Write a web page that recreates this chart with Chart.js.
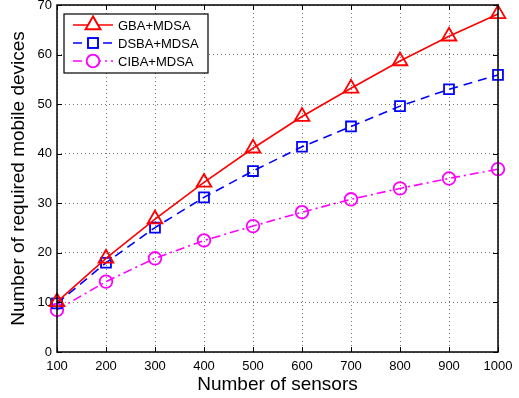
<!DOCTYPE html>
<html>
<head>
<meta charset="utf-8">
<script src="https://cdn.jsdelivr.net/npm/chart.js@4"></script>
<style>
  html, body { margin: 0; padding: 0; background: #fff; }
  #wrap { width: 519px; height: 398px; }
</style>
</head>
<body>
<div id="wrap"><canvas id="c" width="519" height="398"></canvas></div>
<script>
// Number of sensors on the x axis
const sensors = [100, 200, 300, 400, 500, 600, 700, 800, 900, 1000];
// Required mobile devices for each scheme
const gbaMdsa  = [10.1, 18.9, 26.8, 34.2, 41.1, 47.5, 53.2, 58.7, 63.7, 68.2];
const dsbaMdsa = [9.8, 18.0, 25.1, 31.2, 36.5, 41.4, 45.5, 49.6, 53.0, 55.9];
const cibaMdsa = [8.5, 14.2, 18.9, 22.5, 25.4, 28.2, 30.8, 33.0, 35.0, 36.9];
const seriesNames = ['GBA+MDSA', 'DSBA+MDSA', 'CIBA+MDSA'];
const xTicks = [100, 200, 300, 400, 500, 600, 700, 800, 900, 1000];
const yTicks = [0, 10, 20, 30, 40, 50, 60, 70];

const FONT = '"Liberation Sans", Arial, Helvetica, sans-serif';

const styles = [
  { color: '#ff0000', dash: [], pointStyle: 'triangle', radius: 8.5 },
  { color: '#0000ff', dash: [9, 6], pointStyle: 'rect', radius: 7 },
  { color: '#ff00ff', dash: [9, 4, 2, 4], pointStyle: 'circle', radius: 6.3 }
];

const values = [gbaMdsa, dsbaMdsa, cibaMdsa];
const datasets = values.map((vals, i) => ({
  label: seriesNames[i],
  data: sensors.map((s, j) => ({ x: s, y: vals[j] })),
  borderColor: styles[i].color,
  backgroundColor: 'rgba(255,255,255,0)',
  borderWidth: 1.6,
  borderDash: styles[i].dash,
  pointStyle: styles[i].pointStyle,
  pointRadius: styles[i].radius,
  pointBorderColor: styles[i].color,
  pointBackgroundColor: 'rgba(255,255,255,0)',
  pointBorderWidth: 1.8,
  tension: 0,
  clip: false
}));

// Box frame, inward tick marks on all four sides, and the legend box
const frameAndLegend = {
  id: 'frameAndLegend',
  afterDraw(chart) {
    const { ctx, chartArea: a, scales } = chart;
    ctx.save();
    ctx.strokeStyle = '#000';
    ctx.lineWidth = 1;
    ctx.setLineDash([]);
    const tl = 5;
    ctx.beginPath();
    xTicks.forEach(v => {
      const px = Math.round(scales.x.getPixelForValue(v)) + 0.5;
      ctx.moveTo(px, a.bottom); ctx.lineTo(px, a.bottom - tl);
      ctx.moveTo(px, a.top); ctx.lineTo(px, a.top + tl);
    });
    yTicks.forEach(v => {
      const py = Math.round(scales.y.getPixelForValue(v)) + 0.5;
      ctx.moveTo(a.left, py); ctx.lineTo(a.left + tl, py);
      ctx.moveTo(a.right, py); ctx.lineTo(a.right - tl, py);
    });
    ctx.stroke();
    ctx.lineWidth = 1.5;
    ctx.strokeRect(a.left, a.top, a.right - a.left, a.bottom - a.top);

    // legend
    const lx = a.left + 7, ly = a.top + 9, lw = 144, lh = 59;
    ctx.fillStyle = '#fff';
    ctx.fillRect(lx, ly, lw, lh);
    ctx.lineWidth = 1.2;
    ctx.strokeStyle = '#000';
    ctx.strokeRect(lx, ly, lw, lh);
    ctx.font = '13px ' + FONT;
    ctx.textBaseline = 'middle';
    datasets.forEach((ds, i) => {
      const y = ly + 11 + i * 18;
      ctx.strokeStyle = ds.borderColor;
      ctx.lineWidth = ds.borderWidth;
      ctx.setLineDash(ds.borderDash);
      ctx.beginPath();
      ctx.moveTo(lx + 9, y); ctx.lineTo(lx + 49, y);
      ctx.stroke();
      ctx.setLineDash([]);
      Chart.helpers.drawPoint(ctx, {
        pointStyle: ds.pointStyle,
        radius: ds.pointRadius,
        borderWidth: ds.pointBorderWidth,
        rotation: 0
      }, lx + 29, y);
      ctx.fillStyle = '#fff';
      ctx.strokeStyle = ds.borderColor;
      ctx.lineWidth = ds.pointBorderWidth;
      ctx.fill();
      ctx.stroke();
      ctx.fillStyle = '#000';
      ctx.fillText(ds.label, lx + 54, y + 1);
    });
    ctx.restore();
  }
};

new Chart(document.getElementById('c'), {
  type: 'line',
  data: { datasets },
  options: {
    responsive: false,
    animation: false,
    devicePixelRatio: 1,
    layout: { autoPadding: false, padding: { left: 0, right: 21, top: 5, bottom: 0 } },
    plugins: { legend: { display: false }, tooltip: { enabled: false } },
    scales: {
      x: {
        type: 'linear',
        min: 100, max: 1000,
        afterBuildTicks: s => { s.ticks = xTicks.map(v => ({ value: v })); },
        afterFit: s => { s.height = 46; s.paddingLeft = 0; s.paddingRight = 0; },
        ticks: { color: '#000', font: { family: FONT, size: 13 }, padding: 7, maxRotation: 0,
                 callback: v => String(v) },
        grid: { color: '#777', drawTicks: false, lineWidth: 1 },
        border: { display: false, dash: [1, 3] },
        title: { display: true, text: 'Number of sensors', color: '#000',
                 font: { family: FONT, size: 19 }, padding: { top: 0, bottom: 2 } }
      },
      y: {
        type: 'linear',
        min: 0, max: 70,
        afterBuildTicks: s => { s.ticks = yTicks.map(v => ({ value: v })); },
        afterFit: s => { s.width = 57; s.paddingTop = 0; s.paddingBottom = 0; },
        ticks: { color: '#000', font: { family: FONT, size: 13 }, padding: 5 },
        grid: { color: '#777', drawTicks: false, lineWidth: 1 },
        border: { display: false, dash: [1, 3] },
        title: { display: true, text: 'Number of required mobile devices', color: '#000',
                 font: { family: FONT, size: 19 }, padding: { top: 7, bottom: 6 } }
      }
    }
  },
  plugins: [frameAndLegend]
});
</script>
</body>
</html>
